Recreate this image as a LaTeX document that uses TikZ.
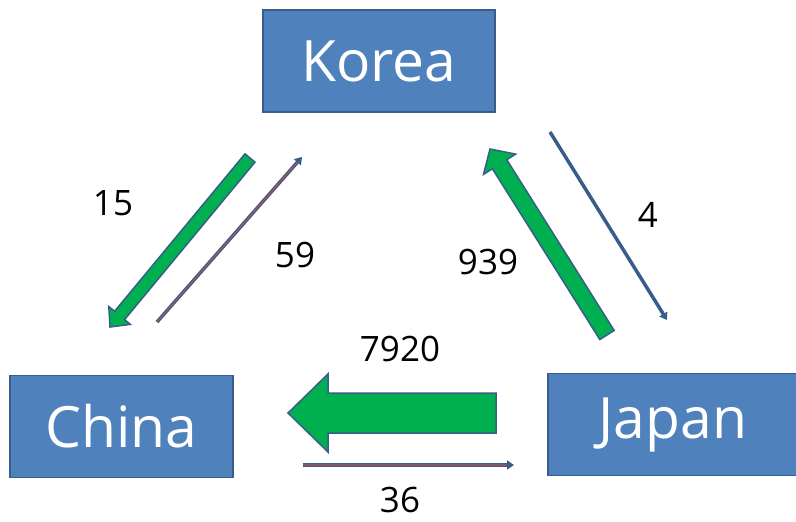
\documentclass[tikz,border=0pt]{standalone}
\usepackage{fontspec}
\setmainfont{Open Sans}
\usetikzlibrary{calc,arrows.meta}
\definecolor{boxblue}{HTML}{4F81BD}
\definecolor{edgeblue}{HTML}{385D8A}
\definecolor{arrgreen}{HTML}{00B050}
\definecolor{arrred}{HTML}{C0504D}
\newcommand{\blockarrow}[5]{%
  \path (#1) coordinate (ba-s) (#2) coordinate (ba-e);
  \path ($(ba-e)!#5!(ba-s)$) coordinate (ba-h);
  \filldraw[blockarr]
    ($(ba-s)!#3!90:(ba-e)$) -- ($(ba-h)!#3!-90:(ba-s)$) -- ($(ba-h)!#4!-90:(ba-s)$)
    -- (ba-e) -- ($(ba-h)!#4!90:(ba-s)$) -- ($(ba-h)!#3!90:(ba-s)$)
    -- ($(ba-s)!#3!-90:(ba-e)$) -- cycle;
}
\begin{document}
\begin{tikzpicture}[x=1pt,y=-1pt,
  country/.style={draw=edgeblue, line width=1.5pt, fill=boxblue, text=white,
    font=\fontsize{57}{66}\selectfont, minimum height=102pt, inner sep=0pt},
  blockarr/.style={fill=arrgreen, draw=edgeblue, line width=1.5pt, line join=miter},
  thinarr/.style={draw=edgeblue, line width=3.5pt, -{Triangle[length=7pt,width=9pt]}},
  lbl/.style={font=\fontsize{35}{42}\selectfont, text=black, inner sep=1pt}]
\useasboundingbox (0,0) rectangle (796,522);
\node[country, minimum width=232pt] (korea) at (379,61) {Korea};
\node[country, minimum width=223pt] (china) at (121.5,426.5) {China};
\node[country, minimum width=250pt] (japan) at (673,424.5) {Japan};

% Korea -> China (15)
\coordinate (kc-s) at (250,158);
\coordinate (kc-e) at (110,327);
\blockarrow{kc-s}{kc-e}{6.5pt}{14pt}{15pt}
% China -> Korea (59)
\coordinate (ck-s) at (157,322);
\coordinate (ck-e) at (302,157);
\draw[thinarr] (ck-s) -- (ck-e);
\draw[arrred, line width=1pt, shorten >=7pt] (ck-s) -- (ck-e);
% Japan -> Korea (939)
\coordinate (jk-s) at (607,335);
\coordinate (jk-e) at (490,149);
\blockarrow{jk-s}{jk-e}{8.5pt}{19pt}{18pt}
% Korea -> Japan (4)
\coordinate (kj-s) at (550,132);
\coordinate (kj-e) at (667,320);
\draw[thinarr] (kj-s) -- (kj-e);
% Japan -> China (7920)
\coordinate (jc-s) at (496,413);
\coordinate (jc-e) at (288,413);
\blockarrow{jc-s}{jc-e}{20pt}{39pt}{40pt}
% China -> Japan (36)
\coordinate (cj-s) at (303,465);
\coordinate (cj-e) at (514,465);
\draw[thinarr, line width=4.5pt] (cj-s) -- (cj-e);
\draw[arrred!60!edgeblue, line width=1.2pt, shorten >=7pt] (cj-s) -- (cj-e);

\node[lbl] (l15) at (113,203) {15};
\node[lbl] (l59) at (295,255) {59};
\node[lbl] (l939) at (488,262) {939};
\node[lbl] (l4) at (648,215) {4};
\node[lbl] (l7920) at (400,349) {7920};
\node[lbl] (l36) at (400,500) {36};
\end{tikzpicture}
\end{document}
